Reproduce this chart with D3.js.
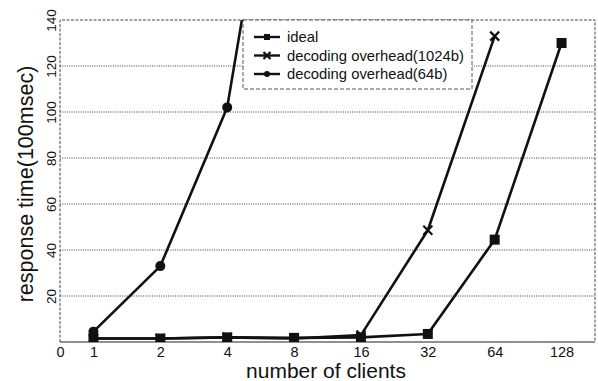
<!DOCTYPE html>
<html>
<head>
<meta charset="utf-8">
<script src="https://cdn.jsdelivr.net/npm/d3@7"></script>
<style>
  body { margin: 0; background: #fff; }
  text { font-family: "Liberation Sans", Arial, sans-serif; fill: #111; }
</style>
</head>
<body>
<svg id="chart" width="598" height="381"></svg>
<script>
// Number of clients (x categories, plotted on a log2 axis)
const clients = [1, 2, 4, 8, 16, 32, 64, 128];
const xTickLabels = ["0", "1", "2", "4", "8", "16", "32", "64", "128"];
const yTicks = [20, 40, 60, 80, 100, 120, 140];

// Response time in units of 100 msec
const idealClients = [1, 2, 4, 8, 16, 32, 64, 128];
const idealValues = [1.5, 1.5, 2, 1.8, 2, 3.5, 44.5, 130];
const overhead1024Clients = [1, 2, 4, 8, 16, 32, 64];
const overhead1024Values = [1.5, 1.5, 2, 1.5, 3, 48.6, 133];
const overhead64Clients = [1, 2, 4, 8];
const overhead64Values = [4.5, 33, 102, 275];

const seriesNames = ["ideal", "decoding overhead(1024b)", "decoding overhead(64b)"];
const seriesMarkers = ["square", "cross", "circle"];

const series = [
  { name: seriesNames[0], marker: seriesMarkers[0], pts: idealClients.map((c, i) => ({ c, v: idealValues[i] })) },
  { name: seriesNames[1], marker: seriesMarkers[1], pts: overhead1024Clients.map((c, i) => ({ c, v: overhead1024Values[i] })) },
  { name: seriesNames[2], marker: seriesMarkers[2], pts: overhead64Clients.map((c, i) => ({ c, v: overhead64Values[i] })) }
];

const svg = d3.select("#chart");
const L = 60, R = 595, T = 20, B = 342;

// x: log2 of client count; the "0" tick sits at the left edge (-0.5)
const x = d3.scaleLinear().domain([-0.5, 7.5]).range([L, R]);
const y = d3.scaleLinear().domain([0, 140]).range([B, T]);
const xPos = c => x(Math.log2(c));

// Horizontal dotted grid
svg.append("g")
  .selectAll("line")
  .data(yTicks.filter(t => t < 140))
  .join("line")
  .attr("x1", L).attr("x2", R)
  .attr("y1", d => y(d)).attr("y2", d => y(d))
  .attr("stroke", "#222").attr("stroke-width", 0.9)
  .attr("stroke-dasharray", "1,1.3");

// Frame: dashed top/left/right, solid bottom
svg.append("path")
  .attr("d", `M${L},${B}V${T}H${R}V${B}`)
  .attr("fill", "none").attr("stroke", "#333").attr("stroke-width", 0.9)
  .attr("stroke-dasharray", "3,1.5");
svg.append("line")
  .attr("x1", L).attr("x2", R).attr("y1", B).attr("y2", B)
  .attr("stroke", "#222").attr("stroke-width", 1.2);

// Axes built with d3 axis generators, lines hidden
const xAxis = d3.axisBottom(x)
  .tickValues([-0.5, 0, 1, 2, 3, 4, 5, 6, 7])
  .tickFormat((d, i) => xTickLabels[i])
  .tickSize(0).tickPadding(5);
const gx = svg.append("g").attr("transform", `translate(0,${B})`).call(xAxis);
gx.select(".domain").remove();
gx.selectAll("text").attr("font-size", 14.5).attr("fill", "#111")
  .style("font-family", "Liberation Sans, Arial, sans-serif");

const yAxis = d3.axisLeft(y).tickValues(yTicks).tickSize(0).tickPadding(0);
const gy = svg.append("g").attr("transform", `translate(${L},0)`).call(yAxis);
gy.select(".domain").remove();
gy.selectAll("text")
  .attr("font-size", 13.5).attr("fill", "#111")
  .style("font-family", "Liberation Sans, Arial, sans-serif")
  .attr("text-anchor", "middle")
  .attr("x", 0).attr("y", 0).attr("dy", 0)
  .attr("dominant-baseline", "central")
  .attr("transform", "translate(-9,0) rotate(-90)");

// Axis titles
svg.append("text")
  .attr("transform", `translate(26,${(T + B) / 2 + 3}) rotate(-90)`)
  .attr("text-anchor", "middle").attr("dominant-baseline", "central")
  .attr("font-size", 21.5).text("response time(100msec)");
svg.append("text")
  .attr("x", 326).attr("y", 378)
  .attr("text-anchor", "middle")
  .attr("font-size", 21).text("number of clients");

// Clip data lines to the plot area
svg.append("clipPath").attr("id", "plotclip")
  .append("rect").attr("x", L).attr("y", T).attr("width", R - L).attr("height", B - T);

const line = d3.line().x(d => xPos(d.c)).y(d => y(d.v));
const plot = svg.append("g").attr("clip-path", "url(#plotclip)");

function drawMarker(g, type, cx, cy, s) {
  if (type === "square") {
    g.append("rect").attr("x", cx - s / 2).attr("y", cy - s / 2)
      .attr("width", s).attr("height", s).attr("fill", "#111");
  } else if (type === "circle") {
    g.append("circle").attr("cx", cx).attr("cy", cy).attr("r", s / 2).attr("fill", "#111");
  } else {
    const h = s / 2;
    g.append("path")
      .attr("d", `M${cx - h},${cy - h}L${cx + h},${cy + h}M${cx - h},${cy + h}L${cx + h},${cy - h}`)
      .attr("stroke", "#111").attr("stroke-width", 2.2).attr("fill", "none");
  }
}

series.forEach(s => {
  plot.append("path").datum(s.pts).attr("d", line)
    .attr("fill", "none").attr("stroke", "#111").attr("stroke-width", 2.6)
    .attr("stroke-linejoin", "round");
});
series.forEach(s => {
  const size = s.marker === "square" ? 10 : s.marker === "circle" ? 10 : 9;
  s.pts.forEach(p => drawMarker(plot, s.marker, xPos(p.c), y(p.v), size));
});

// Legend
const lg = svg.append("g");
lg.append("rect").attr("x", 243).attr("y", 20).attr("width", 229).attr("height", 69)
  .attr("fill", "#fff").attr("stroke", "#444").attr("stroke-width", 0.9)
  .attr("stroke-dasharray", "4,2");
series.forEach((s, i) => {
  const ly = 37 + i * 18.5;
  lg.append("line").attr("x1", 254).attr("x2", 280).attr("y1", ly).attr("y2", ly)
    .attr("stroke", "#111").attr("stroke-width", 2.4);
  drawMarker(lg, s.marker, 267, ly, s.marker === "cross" ? 7 : 6);
  lg.append("text").attr("x", 287).attr("y", ly).attr("dominant-baseline", "central")
    .attr("font-size", 14.8).text(s.name);
});
</script>
</body>
</html>
